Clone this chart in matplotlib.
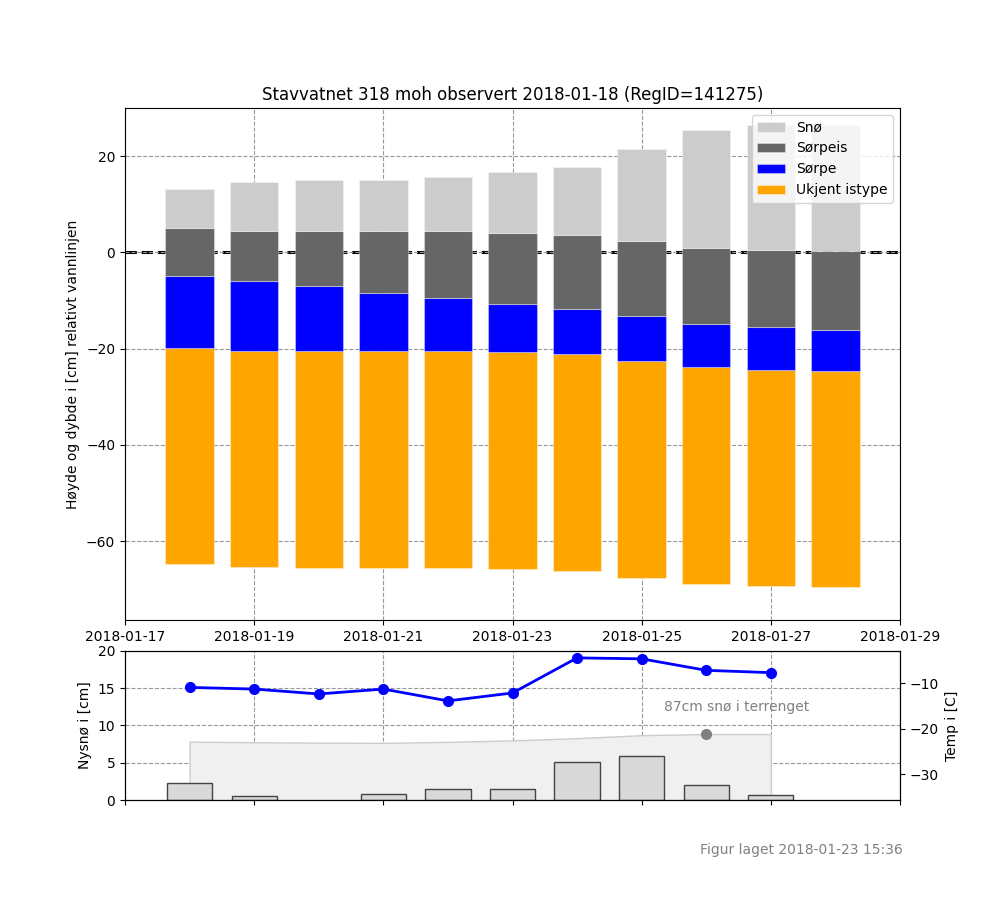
import matplotlib
matplotlib.use("Agg")
import matplotlib.pyplot as plt
import matplotlib.dates as mdates
import numpy as np
import datetime as dt

# ---- data ----
obs_dates = ["2018-01-18", "2018-01-19", "2018-01-20", "2018-01-21", "2018-01-22",
             "2018-01-23", "2018-01-24", "2018-01-25", "2018-01-26", "2018-01-27",
             "2018-01-28"]
ice_bottom = [-64.8, -65.3, -65.5, -65.5, -65.5, -65.9, -66.3, -67.6, -69.0, -69.4, -69.6]
ukjent_istype = [45.0, 44.9, 45.1, 45.1, 44.9, 45.1, 45.1, 45.1, 45.1, 45.0, 45.0]
sorpe = [14.9, 14.45, 13.4, 11.95, 11.1, 10.1, 9.4, 9.3, 9.0, 8.9, 8.5]
sorpeis = [9.95, 10.35, 11.4, 12.85, 13.9, 14.7, 15.4, 15.55, 15.8, 16.0, 16.3]
sno = [8.15, 10.3, 10.7, 10.7, 11.3, 12.8, 14.2, 19.15, 24.5, 26.0, 26.3]

wx_dates = ["2018-01-18", "2018-01-19", "2018-01-20", "2018-01-21", "2018-01-22",
            "2018-01-23", "2018-01-24", "2018-01-25", "2018-01-26", "2018-01-27"]
nysno = [2.3, 0.55, 0.0, 0.85, 1.5, 1.5, 5.05, 5.85, 2.0, 0.7]
temp = [-10.87, -11.23, -12.31, -11.23, -13.83, -12.09, -4.37, -4.58, -7.11, -7.62]
terrain_snow = [7.84, 7.75, 7.7, 7.67, 7.8, 8.0, 8.3, 8.7, 8.85, 8.85]
terrain_max_date = "2018-01-26"
terrain_max = 8.85
terrain_label = "87cm snø i terrenget"

title = "Stavvatnet 318 moh observert 2018-01-18 (RegID=141275)"
footer = "Figur laget 2018-01-23 15:36"

# ---- plotting ----
to_dt = lambda s: dt.datetime.strptime(s, "%Y-%m-%d")
xd = [to_dt(d) for d in obs_dates]
xw = [to_dt(d) for d in wx_dates]

fig = plt.figure(figsize=(10, 9), dpi=100)
ax = fig.add_axes([0.125, 0.3111, 0.775, 0.5689])
ax2 = fig.add_axes([0.125, 0.1111, 0.775, 0.1656])

grid_kw = dict(color="#999999", linestyle="--", linewidth=0.8)

bottom = np.array(ice_bottom, dtype=float)
layers = [(ukjent_istype, "orange", "Ukjent istype"),
          (sorpe, "blue", "Sørpe"),
          (sorpeis, "#666666", "Sørpeis"),
          (sno, "#cccccc", "Snø")]
handles = []
for vals, col, lab in layers:
    b = ax.bar(xd, vals, bottom=bottom, width=0.75, color=col, edgecolor=(1, 1, 1, 0.35),
               linewidth=0.8, label=lab, zorder=1)
    handles.append(b)
    bottom = bottom + np.array(vals)

ax.axhline(0, color="k", linestyle="--", linewidth=2.2, zorder=0.3)
ax.set_axisbelow(True)
ax.grid(True, **grid_kw)
ax.set_ylim(-76.4, 30)
xmin, xmax = to_dt("2018-01-17"), to_dt("2018-01-29")
ax.set_xlim(xmin, xmax)
ax.xaxis.set_major_locator(mdates.DayLocator(interval=2))
ax.xaxis.set_major_formatter(mdates.DateFormatter("%Y-%m-%d"))
ax.set_yticks([-60, -40, -20, 0, 20])
ax.set_ylabel("Høyde og dybde i [cm] relativt vannlinjen")
ax.set_title(title, fontsize=12)
ax.legend(handles[::-1], [h.get_label() for h in handles[::-1]], loc="upper right")

# bottom panel
ax2.set_axisbelow(True)
ax2.grid(True, **grid_kw)
ax2.fill_between(xw, 0, terrain_snow, facecolor="#f0f0f0", edgecolor="#cccccc",
                 linewidth=1, zorder=1)
nz = [(d, v) for d, v in zip(xw, nysno) if v > 0]
ax2.bar([d for d, _ in nz], [v for _, v in nz], width=0.7, color="#d9d9d9",
        edgecolor="#444444", linewidth=1, zorder=2)
ax2.plot([to_dt(terrain_max_date)], [terrain_max], "o", color="gray", markersize=7, zorder=3)
ax2.text(to_dt("2018-01-25") + dt.timedelta(hours=8.4), 12.5, terrain_label,
         color="gray", fontsize=10, va="center", ha="left")
ax2.set_xlim(xmin, xmax)
ax2.set_ylim(0, 20)
ax2.set_yticks([0, 5, 10, 15, 20])
ax2.xaxis.set_major_locator(mdates.DayLocator(interval=2))
ax2.tick_params(axis="x", labelbottom=False)
ax2.set_ylabel("Nysnø i [cm]")

ax3 = ax2.twinx()
ax3.plot(xw, temp, "-o", color="blue", linewidth=2, markersize=7)
ax3.set_ylim(-35.64, -2.85)
ax3.set_yticks([-30, -20, -10])
ax3.set_ylabel("Temp i [C]")
ax3.set_xlim(xmin, xmax)

fig.text(0.903, 0.0555, footer, color="gray", fontsize=10, ha="right", va="center")

fig.savefig("out.png", dpi=100)
